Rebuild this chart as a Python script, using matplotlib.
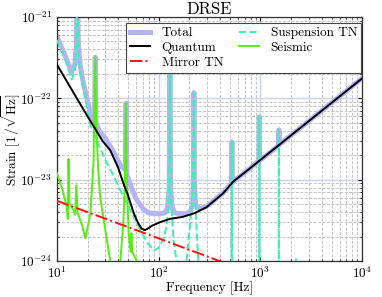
#!/usr/bin/python3

import matplotlib
matplotlib.use('Agg')
import matplotlib.pyplot as plt
from matplotlib.ticker import FixedLocator, NullFormatter

plt.rcParams['font.family'] = 'serif'
plt.rcParams['font.serif'] = ['cmr10', 'DejaVu Serif']
plt.rcParams['mathtext.fontset'] = 'cm'
plt.rcParams['axes.formatter.use_mathtext'] = True

# values (Hz, strain / sqrt(Hz))
total_f = [10, 12, 13, 14, 15, 15.5, 15.85, 16.2, 17, 18.3, 21.3, 23.4, 23.8, 24.2,
           26, 30, 36, 42, 47, 47.8, 48.6, 55, 61, 70, 80, 100, 115, 122, 127, 129,
           131, 136, 145, 180, 205, 215, 220, 222, 224, 230, 250, 296, 430, 520, 525,
           530, 541, 790, 965, 975, 985, 1000, 1500, 1520, 1540, 10000]
total = [5.7e-22, 3.4e-22, 2.6e-22, 2.1e-22, 2.6e-22, 4.5e-22, 3e-21, 5e-22, 2.4e-22, 1.5e-22,
         6.5e-23, 5e-23, 3.2e-22, 5e-23,
         4.0e-23, 3.2e-23, 2.2e-23, 1.5e-23, 1.3e-23, 8.7e-23, 1.15e-23, 7.5e-24, 5.6e-24,
         4.4e-24, 3.9e-24, 3.8e-24, 3.9e-24, 4.5e-24, 8e-24, 5e-22,
         8e-24, 4.5e-24, 3.9e-24, 3.8e-24, 4.0e-24, 5e-24, 1e-23, 1.17e-22, 1e-23, 5e-24,
         4.4e-24, 4.7e-24, 6.9e-24, 9e-24, 2.9e-23,
         9.2e-24, 9.5e-24, 1.38e-23, 1.7e-23, 5.9e-23, 1.72e-23, 1.75e-23, 2.6e-23, 4.1e-23, 2.7e-23,
         1.76e-22]

quantum_f = [10, 15, 20, 24.7, 28, 33.4, 40, 45.2, 50, 56.8, 63, 68, 73, 78, 85, 103,
             129, 174, 228, 296, 430, 541, 790, 1000, 10000]
quantum = [2.6e-22, 1.1e-22, 6.0e-23, 3.9e-23, 3.0e-23, 2.3e-23, 1.4e-23, 8.9e-24, 6.4e-24,
           3.9e-24, 2.9e-24, 2.5e-24, 2.4e-24, 2.5e-24, 2.7e-24, 3.0e-24,
           3.3e-24, 3.5e-24, 3.9e-24, 4.6e-24, 6.8e-24, 9.5e-24, 1.38e-23, 1.75e-23, 1.76e-22]

mirror_f = [10, 100, 1000, 10000]
mirror = [5.5e-24, 1.9e-24, 6.5e-25, 2.2e-25]

susp_f = [10, 12, 14, 15, 15.5, 15.85, 16.2, 17, 18.3, 21, 25, 31, 37, 45, 55, 66, 77, 90,
          100, 112, 120, 125, 128, 129, 130, 133, 140, 150, 165, 180, 188, 200, 212, 219,
          222, 225, 232, 245, 270, 400, 521, 525, 529, 970, 975, 980, 1515, 1520, 1525,
          2235, 2240, 2245, 10000]
susp = [5.2e-22, 3.1e-22, 1.7e-22, 2.2e-22, 4e-22, 3e-21, 4.5e-22, 2.0e-22, 1.3e-22, 5e-23,
        2.9e-23, 1.6e-23, 1.05e-23, 6.2e-24, 3.8e-24, 2.4e-24, 1.7e-24, 1.35e-24,
        1.45e-24, 1.9e-24, 2.7e-24, 5e-24, 2e-23, 5e-22, 2e-23, 5e-24, 1.8e-24, 1e-24, 5e-25,
        6e-25, 1e-24, 2.2e-24, 5e-24, 2e-23,
        1.17e-22, 2e-23, 4e-24, 1e-24, 4e-25, 1.5e-25, 1.5e-25, 2.9e-23, 1.5e-25,
        1e-25, 5.9e-23, 1e-25, 8e-26, 4e-23, 8e-26,
        6e-26, 1.1e-24, 6e-26, 3e-26]

seis_f = [10, 11, 12.5, 12.8, 13.0, 13.3, 14.6, 15.1, 15.5, 16.0, 17.6, 19.0, 21.3, 22.9,
          23.8, 24.3, 25.5, 26.6, 31, 33.5, 36, 40, 42, 45, 46.8, 47.6, 48.4, 50.6, 53,
          54, 55, 61, 70, 100, 10000]
seis = [1.2e-23, 8.5e-24, 4.7e-24, 3.3e-24, 1.8e-23, 5.1e-24, 4.2e-24, 3.7e-24, 8.5e-24,
        3.9e-24, 2.8e-24, 1.9e-24, 3.8e-24, 1.6e-23,
        3.2e-22, 5e-23, 1.3e-23, 6.2e-24, 1.8e-24, 1e-24, 6e-25, 6e-25, 1e-24, 3e-24,
        1.2e-23, 8.7e-23, 1.2e-23, 2.2e-24, 1.3e-24,
        2.2e-24, 1.3e-24, 1e-24, 3e-25, 1e-25, 1e-28]

x_ticks = [1e1, 1e2, 1e3, 1e4]
y_ticks = [1e-24, 1e-23, 1e-22, 1e-21]
x_minor = [m * 10**d for d in (1, 2, 3) for m in range(2, 10)]
y_minor = [m * 10.0**d for d in (-24, -23, -22) for m in range(2, 10)]

fig = plt.figure(figsize=(3.82, 2.97), dpi=100)
ax1 = fig.add_axes([0.149, 0.121, 0.799, 0.822])

ax1.loglog(total_f, total, color='#b4b4f4', lw=3.6, label='Total', zorder=2)
ax1.loglog(quantum_f, quantum, color='k', lw=1.4, label='Quantum', zorder=4)
ax1.loglog(mirror_f, mirror, color='#ff1010', lw=1.4, ls='-.', label='Mirror TN', zorder=4)
ax1.loglog(susp_f, susp, color='#3cf0b0', lw=1.4, ls='--', label='Suspension TN', zorder=3)
ax1.loglog(seis_f, seis, color='#55ee10', lw=1.4, label='Seismic', zorder=3)

ax1.set_xlim(10, 1e4)
ax1.set_ylim(1e-24, 1e-21)
ax1.set_xticks(x_ticks)
ax1.set_yticks(y_ticks)
ax1.xaxis.set_minor_locator(FixedLocator(x_minor))
ax1.yaxis.set_minor_locator(FixedLocator(y_minor))
ax1.xaxis.set_minor_formatter(NullFormatter())
ax1.yaxis.set_minor_formatter(NullFormatter())
ax1.tick_params(which='both', direction='in', top=True, right=True, labelsize=9.5)
ax1.tick_params(which='major', length=3)
ax1.tick_params(which='minor', length=1.5)

ax1.grid(which='major', color='#cdd2f7', ls='-', lw=1.0, zorder=0)
ax1.grid(which='minor', color='#bdbdbd', ls='--', lw=0.6, zorder=0)
ax1.set_axisbelow(True)
for s in ax1.spines.values():
    s.set_color('#333333')
    s.set_linewidth(0.9)

ax1.set_title('DRSE', fontsize=12, pad=2)
ax1.set_xlabel('Frequency [Hz]', fontsize=9.5, labelpad=0)
ax1.set_ylabel(r'Strain $[1\,/\sqrt{\mathrm{Hz}}]$', fontsize=9.5)
ax1.yaxis.set_label_coords(-0.112, 0.5)

leg = ax1.legend(loc='upper right', ncol=2, fontsize=9.5, frameon=True, fancybox=False,
                 framealpha=1, edgecolor='#444444', bbox_to_anchor=(0.997, 0.975),
                 borderaxespad=0.0, handlelength=1.5, handletextpad=0.9, columnspacing=1.2,
                 labelspacing=0.2, borderpad=0.3)
leg.get_frame().set_linewidth(0.8)

fig.savefig('out.png', dpi=100)
